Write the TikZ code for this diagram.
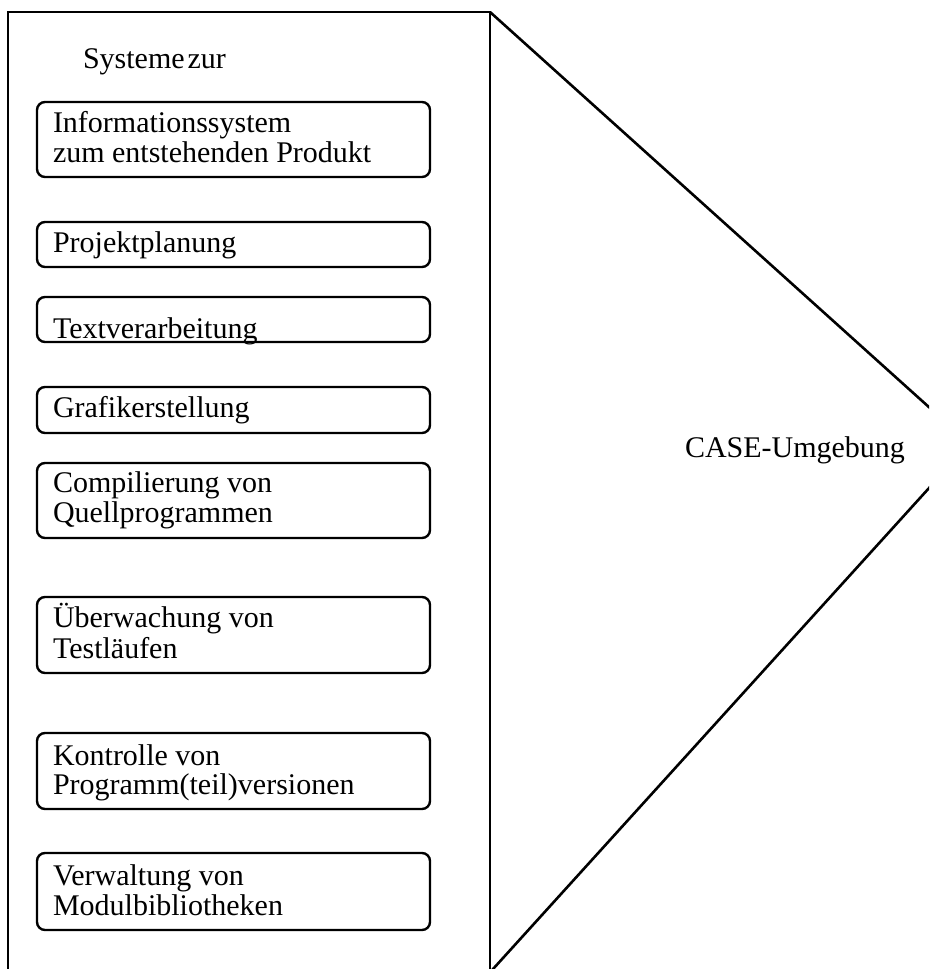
\documentclass[tikz,border=0pt]{standalone}
\usepackage{fontspec}
\setmainfont{Liberation Serif}
\begin{document}
\begin{tikzpicture}[x=1pt,y=-1pt,
  frame/.style={line width=2.6pt,line join=miter},
  entry/.style={draw,line width=2.4pt,rounded corners=8pt,minimum width=393pt,inner sep=0pt,outer sep=0pt},
  txt/.style={anchor=base west,inner sep=0pt,outer sep=0pt,font=\fontsize{30pt}{30pt}\selectfont}]
\useasboundingbox (0,0) rectangle (929,969);
\clip (0,0) rectangle (929,969);
\fill[white] (0,0) rectangle (929,969);

% outer frame and the wedge pointing right
\coordinate (fbl) at (8,990);
\coordinate (ftl) at (8,12);
\coordinate (ftr) at (490,12);
\coordinate (fbr) at (490,990);
\coordinate (tip) at (969.4,443.5);
\coordinate (wend) at (474,990);
\draw[frame] (fbl) -- (ftl) -- (ftr) -- (fbr);
\draw[frame] (ftr) -- (tip) -- (wend);

\node[txt] (head) at (83,68) {Systeme\hspace{3pt}zur};
\node[txt] (case) at (685,457) {CASE-Umgebung};

% system boxes
\node[entry,minimum height=75pt] (b1) at (233.5,139.5) {};
\node[entry,minimum height=45pt] (b2) at (233.5,244.5) {};
\node[entry,minimum height=45pt] (b3) at (233.5,319.5) {};
\node[entry,minimum height=46pt] (b4) at (233.5,410) {};
\node[entry,minimum height=75pt] (b5) at (233.5,500.5) {};
\node[entry,minimum height=76pt] (b6) at (233.5,635) {};
\node[entry,minimum height=76pt] (b7) at (233.5,771) {};
\node[entry,minimum height=77pt] (b8) at (233.5,891.5) {};

% box labels
\node[txt] (t1a) at (53,132) {Informationssystem};
\node[txt] (t1b) at (53,162) {zum entstehenden Produkt};
\node[txt] (t2)  at (53,252) {Projektplanung};
\node[txt] (t3)  at (53,338) {Textverarbeitung};
\node[txt] (t4)  at (53,417) {Grafikerstellung};
\node[txt] (t5a) at (53,492) {Compilierung von};
\node[txt] (t5b) at (53,522) {Quellprogrammen};
\node[txt] (t6a) at (53,627) {Überwachung von};
\node[txt] (t6b) at (53,658) {Testläufen};
\node[txt] (t7a) at (53,765) {Kontrolle von};
\node[txt] (t7b) at (53,794) {Programm(teil)versionen};
\node[txt] (t8a) at (53,885) {Verwaltung von};
\node[txt] (t8b) at (53,915) {Modulbibliotheken};
\end{tikzpicture}
\end{document}
